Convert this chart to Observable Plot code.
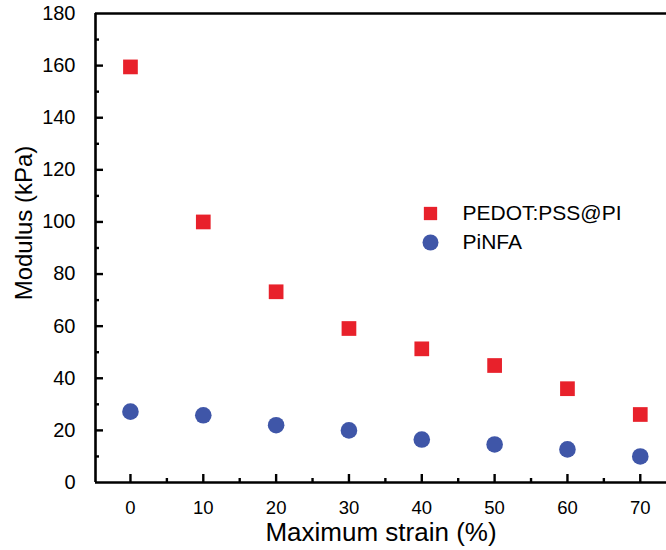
<!DOCTYPE html>
<html>
<head>
<meta charset="utf-8">
<script src="https://cdn.jsdelivr.net/npm/d3@7"></script>
<script src="https://cdn.jsdelivr.net/npm/@observablehq/plot@0.6"></script>
<style>
  html, body { margin: 0; padding: 0; background: #fff; }
  svg { display: block; }
</style>
</head>
<body>
<div id="chart"></div>
<script>
const strain = [0, 10, 20, 30, 40, 50, 60, 70];
const pedot = [159.5, 100, 73.2, 59.1, 51.3, 44.9, 36, 26.1];
const pinfa = [27.2, 25.8, 22, 20, 16.5, 14.6, 12.7, 10];
const seriesNames = ["PEDOT:PSS@PI", "PiNFA"];
const xMajor = [0, 10, 20, 30, 40, 50, 60, 70];
const xMinor = [5, 15, 25, 35, 45, 55, 65];
const yMajor = [0, 20, 40, 60, 80, 100, 120, 140, 160, 180];
const yMinor = [10, 30, 50, 70, 90, 110, 130, 150, 170];

const W = 666, H = 550;
const mL = 95, mT = 13, mB = 68, mR = 0;
const pw = W - mL - mR, ph = H - mT - mB;
const xDomain = [-4.8, 73.6];
const yDomain = [0, 180];
const red = "#e8212b", blue = "#3f56a8";
const font = "'Liberation Sans', Arial, Helvetica, sans-serif";

const sq = strain.map((s, i) => ({x: s, y: pedot[i]}));
const ci = strain.map((s, i) => ({x: s, y: pinfa[i]}));

const chart = Plot.plot({
  width: W, height: H,
  marginLeft: mL, marginTop: mT, marginBottom: mB, marginRight: mR,
  style: {fontFamily: font, background: "#fff", color: "#000"},
  x: {domain: xDomain},
  y: {domain: yDomain},
  marks: [
    // axis frame lines
    Plot.ruleY([yDomain[0]], {stroke: "#000", strokeWidth: 2.6}),
    Plot.ruleY([yDomain[1]], {stroke: "#000", strokeWidth: 2.6}),
    Plot.ruleX([xDomain[0]], {stroke: "#000", strokeWidth: 2.6}),
    // inward ticks
    Plot.ruleX(xMajor, {stroke: "#000", strokeWidth: 2.4, insetTop: ph - 8}),
    Plot.ruleX(xMinor, {stroke: "#000", strokeWidth: 2.4, insetTop: ph - 4}),
    Plot.ruleY(yMajor.filter(d => d > 0 && d < 180), {stroke: "#000", strokeWidth: 2.4, insetRight: pw - 8}),
    Plot.ruleY(yMinor, {stroke: "#000", strokeWidth: 2.4, insetRight: pw - 4}),
    // tick labels
    Plot.axisX({ticks: xMajor, tickSize: 0, tickPadding: 18, fontSize: 18.5, label: null}),
    Plot.axisY({ticks: yMajor, tickSize: 0, tickPadding: 20, fontSize: 20, label: null}),
    // axis titles
    Plot.text(["Maximum strain (%)"], {frameAnchor: "bottom", lineAnchor: "middle", textAnchor: "middle", dy: 50, fontSize: 26, fill: "#000"}),
    Plot.text(["Modulus (kPa)"], {frameAnchor: "left", lineAnchor: "middle", textAnchor: "middle", dx: -71, dy: -25, rotate: -90, fontSize: 24, fill: "#000"}),
    // data
    Plot.dot(sq, {x: "x", y: "y", symbol: "square", r: 8.3, fill: red, stroke: "none"}),
    Plot.dot(ci, {x: "x", y: "y", symbol: "circle", r: 8.3, fill: blue, stroke: "none"}),
    // legend
    Plot.dot([seriesNames[0]], {frameAnchor: "top-left", dx: 335, dy: 200, symbol: "square", r: 7.5, fill: red}),
    Plot.dot([seriesNames[1]], {frameAnchor: "top-left", dx: 335, dy: 229, symbol: "circle", r: 8, fill: blue}),
    Plot.text([seriesNames[0]], {text: d => d, frameAnchor: "top-left", lineAnchor: "middle", dx: 367, dy: 200, textAnchor: "start", fontSize: 21, fill: "#000"}),
    Plot.text([seriesNames[1]], {text: d => d, frameAnchor: "top-left", lineAnchor: "middle", dx: 367, dy: 229, textAnchor: "start", fontSize: 21, fill: "#000"})
  ]
});
document.getElementById("chart").appendChild(chart);
</script>
</body>
</html>
